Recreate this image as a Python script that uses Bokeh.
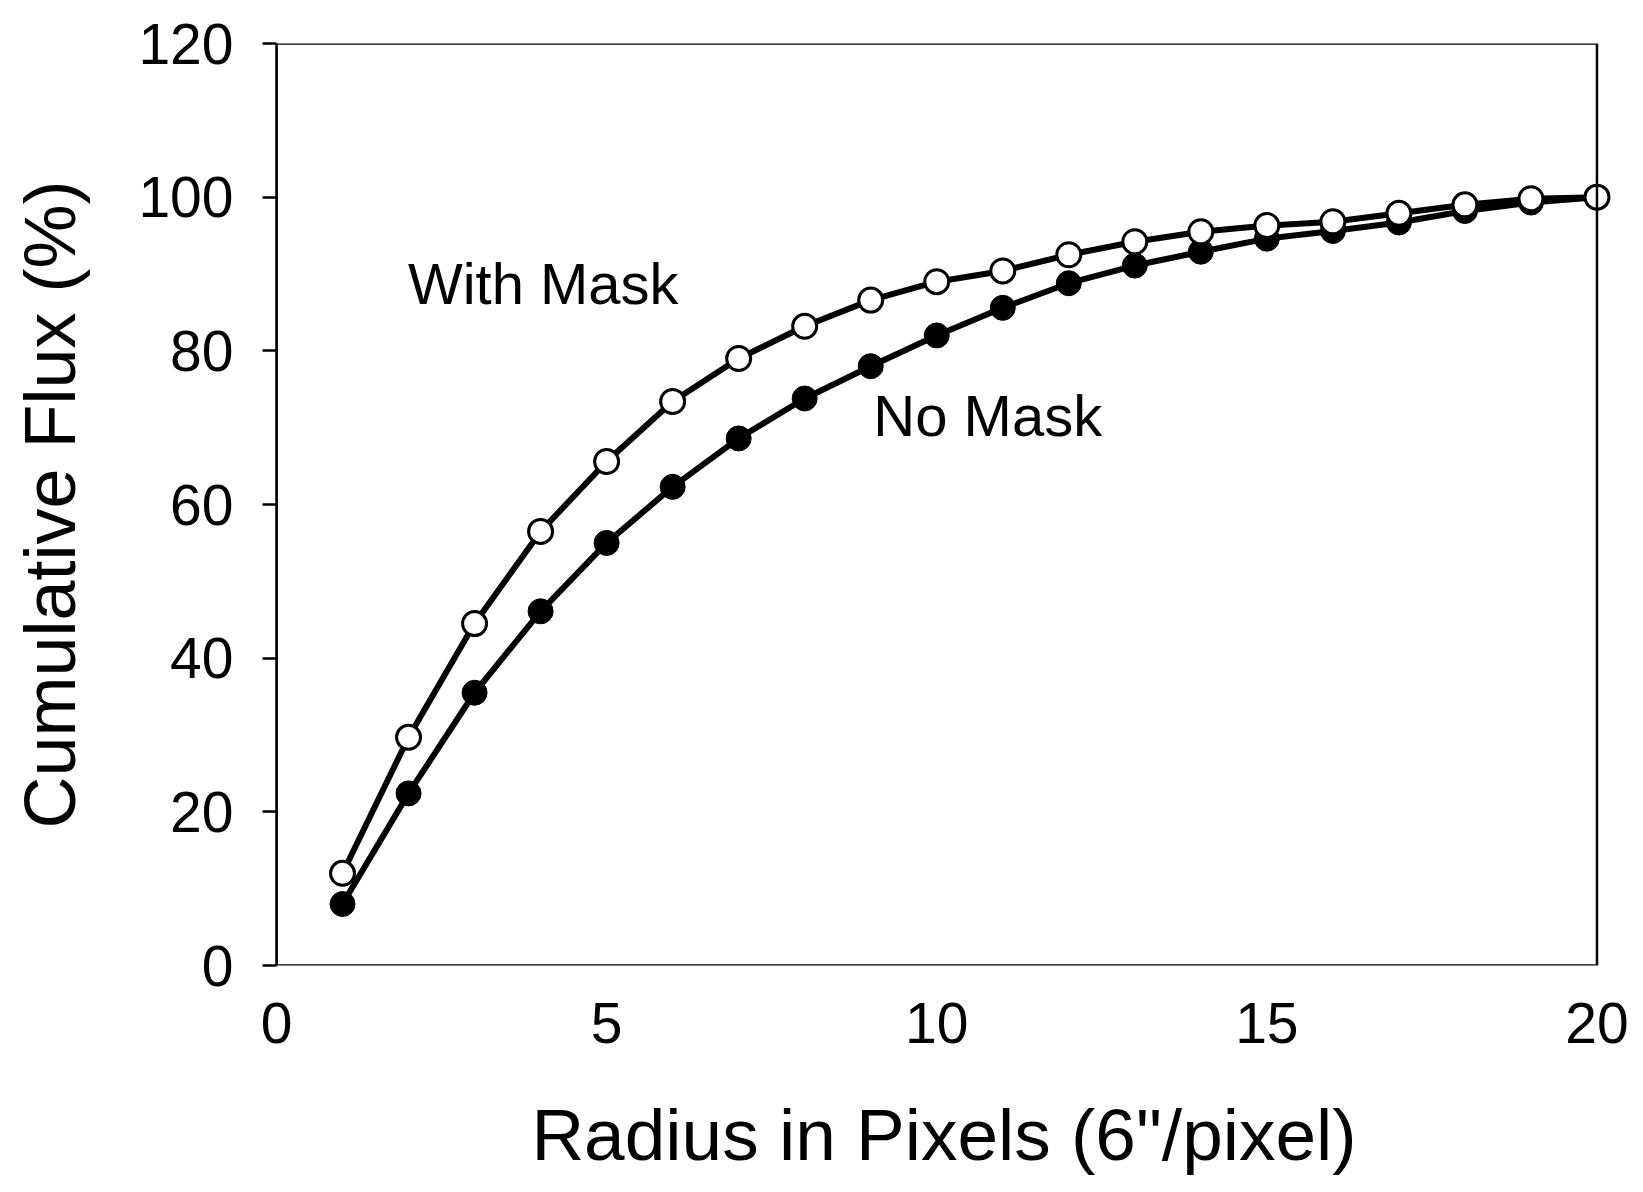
from bokeh.plotting import figure
from bokeh.models import ColumnDataSource, FixedTicker, Range1d, Label, BoxAnnotation
from bokeh.embed import file_html
from bokeh.resources import INLINE

# ---- data ----
radius = [1, 2, 3, 4, 5, 6, 7, 8, 9, 10, 11, 12, 13, 14, 15, 16, 17, 18, 19, 20]
with_mask = [12.0, 29.7, 44.5, 56.5, 65.6, 73.4, 79.0, 83.2, 86.6, 89.0,
             90.4, 92.5, 94.2, 95.5, 96.3, 96.8, 97.9, 99.0, 99.8, 100.0]
no_mask = [8.0, 22.4, 35.5, 46.1, 55.0, 62.3, 68.6, 73.8, 78.0, 82.0,
           85.6, 88.8, 91.1, 92.9, 94.6, 95.6, 96.7, 98.2, 99.3, 100.0]
x_ticks = [0, 5, 10, 15, 20]
y_ticks = [0, 20, 40, 60, 80, 100, 120]

FONT = "Liberation Sans"
X_PAD = 0.22  # just enough room so the last marker is not clipped

p = figure(width=1635, height=1184, output_backend="svg", toolbar_location=None,
           x_range=Range1d(x_ticks[0], x_ticks[-1] + X_PAD),
           y_range=Range1d(y_ticks[0], y_ticks[-1]),
           min_border_left=276, min_border_right=24, min_border_top=43,
           min_border_bottom=219)
p.outline_line_color = None
p.background_fill_color = "white"
p.border_fill_color = "white"
p.xgrid.visible = False
p.ygrid.visible = False

src_no = ColumnDataSource(dict(x=radius, y=no_mask))
src_with = ColumnDataSource(dict(x=radius, y=with_mask))

p.line("x", "y", source=src_no, line_color="black", line_width=6)
p.scatter("x", "y", source=src_no, size=25, fill_color="black", line_color="black",
          line_width=1)
p.line("x", "y", source=src_with, line_color="black", line_width=6)
p.scatter("x", "y", source=src_with, size=24, fill_color="white", line_color="black",
          line_width=3)

# frame box from 0..20 x 0..120
p.add_layout(BoxAnnotation(left=x_ticks[0], right=x_ticks[-1], bottom=y_ticks[0],
                           top=y_ticks[-1], fill_alpha=0, fill_color=None,
                           line_color="black", line_alpha=1.0, line_width=2.5,
                           level="overlay"))

# axes
xa = p.xaxis[0]
xa.ticker = FixedTicker(ticks=x_ticks)
xa.axis_line_color = None
xa.major_tick_out = 0
xa.major_tick_in = 0
xa.minor_tick_line_color = None
xa.major_label_text_font = FONT
xa.major_label_text_font_size = "57px"
xa.major_label_text_color = "black"
xa.major_label_standoff = 37
xa.axis_label = 'Radius in Pixels (6"/pixel)'
xa.axis_label_text_font = FONT
xa.axis_label_text_font_size = "73px"
xa.axis_label_text_font_style = "normal"
xa.axis_label_text_color = "black"
xa.axis_label_standoff = 48

ya = p.yaxis[0]
ya.ticker = FixedTicker(ticks=y_ticks)
ya.axis_line_color = "black"
ya.axis_line_width = 2.5
ya.major_tick_out = 14
ya.major_tick_in = 0
ya.major_tick_line_width = 2.5
ya.major_tick_line_color = "black"
ya.minor_tick_line_color = None
ya.major_label_text_font = FONT
ya.major_label_text_font_size = "57px"
ya.major_label_text_color = "black"
ya.major_label_standoff = 29
ya.axis_label = "Cumulative Flux (%)"
ya.axis_label_text_font = FONT
ya.axis_label_text_font_size = "72px"
ya.axis_label_text_font_style = "normal"
ya.axis_label_text_color = "black"
ya.axis_label_standoff = 45

p.add_layout(Label(x=1.99, y=88.8, text="With Mask", text_font=FONT,
                   text_font_size="58px", text_color="black",
                   text_align="left", text_baseline="alphabetic"))
p.add_layout(Label(x=9.04, y=71.6, text="No Mask", text_font=FONT,
                   text_font_size="58px", text_color="black",
                   text_align="left", text_baseline="alphabetic"))

open("out.html", "w").write(file_html(p, INLINE))
